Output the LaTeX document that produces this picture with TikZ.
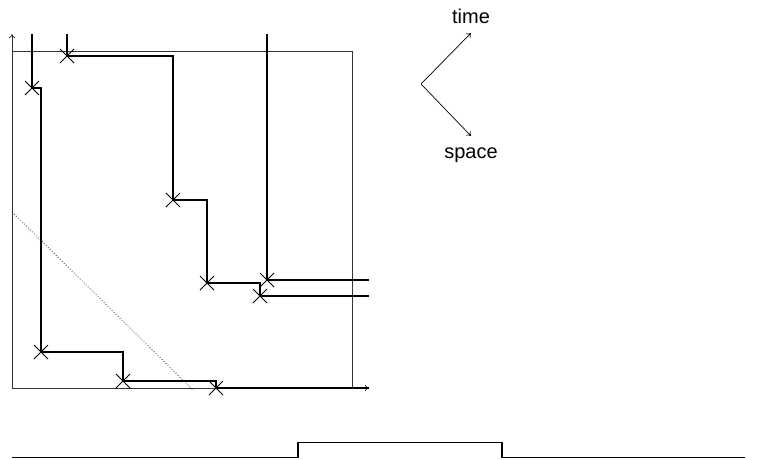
\documentclass[tikz,border=0pt]{standalone}
\usepackage{fontspec}
\setmainfont{Liberation Sans}
\usetikzlibrary{shapes.misc,arrows.meta}
\tikzset{
  world/.style={line width=1.6pt,line join=miter},
  xmark/.style={cross out,draw,line width=1pt,minimum size=13pt,inner sep=0pt},
  axisline/.style={line width=0.8pt,draw=black!80},
  boxline/.style={line width=0.8pt,draw=black!80},
  dirarrow/.style={line width=0.7pt,-{To[length=4pt,width=6pt]}},
  lbl/.style={font=\fontsize{20}{24}\selectfont,inner sep=0pt,anchor=base}
}
\begin{document}
\begin{tikzpicture}[x=1pt,y=-1pt]
\useasboundingbox (0,0) rectangle (757,459);
% axes and box
\coordinate (O) at (12,388);
\coordinate (ytip) at (12,34);
\coordinate (xtip) at (369,388);
\coordinate (bTL) at (12,51);
\coordinate (bTR) at (352,51);
\coordinate (bBR) at (352,388);
\draw[boxline] (bTL) -- (bTR) -- (bBR);
\draw[axisline,-{To[length=4pt,width=6pt]}] (O) -- (ytip);
\draw[axisline,-{To[length=4pt,width=6pt]}] (O) -- (xtip);
% dotted diagonal
\coordinate (d1) at (12,212);
\coordinate (d2) at (193,390);
\draw[dotted,line width=0.8pt,black!85] (d1) -- (d2);
% crosses
\node[xmark] (a1) at (32,88) {};
\node[xmark] (a2) at (41,352) {};
\node[xmark] (a3) at (123,381) {};
\node[xmark] (a4) at (216,388) {};
\node[xmark] (b1) at (67,56) {};
\node[xmark] (b2) at (173,200) {};
\node[xmark] (b3) at (207,283) {};
\node[xmark] (b4) at (260,296) {};
\node[xmark] (c1) at (267,280) {};
% worldline A
\coordinate (a0) at (32,34);
\coordinate (a5) at (369,388);
\draw[world] (a0) -- (a1.center) -- ++(9,0) |- (a2.center) -| (a3.center) -| (a4.center) -- (a5);
% worldline B
\coordinate (b0) at (67,34);
\coordinate (b5) at (369,296);
\draw[world] (b0) -- (b1.center) -| (b2.center) -| (b3.center) -| (b4.center) -- (b5);
% worldline C
\coordinate (c0) at (267,34);
\coordinate (c2) at (369,280);
\draw[world] (c0) -- (c1.center) -- (c2);
% direction indicator
\coordinate (v) at (421,84);
\coordinate (tt) at (471,33);
\coordinate (st) at (471,136);
\draw[dirarrow] (v) -- (tt);
\draw[dirarrow] (v) -- (st);
\node[lbl] (time) at (471,23) {time};
\node[lbl] (space) at (471,158) {space};
% bottom pulse
\coordinate (p0) at (12,457.5);
\coordinate (p1) at (298,457.5);
\coordinate (p2) at (298,442.5);
\coordinate (p3) at (502,442.5);
\coordinate (p4) at (502,457.5);
\coordinate (p5) at (745,457.5);
\draw[line width=1.4pt] (p0) -- (p1) -- (p2) -- (p3) -- (p4) -- (p5);
\end{tikzpicture}
\end{document}
